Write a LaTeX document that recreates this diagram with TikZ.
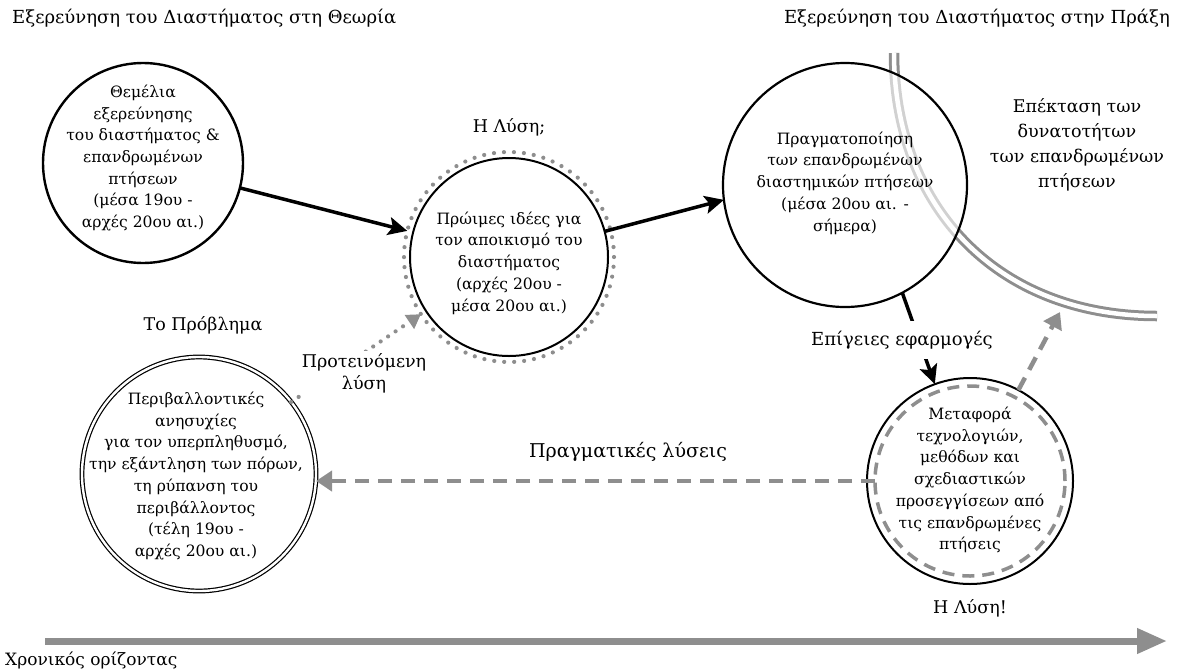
\documentclass[tikz,border=0pt]{standalone}
\usepackage{fontspec}
\setmainfont{DejaVu Serif}
\usetikzlibrary{arrows.meta}
\definecolor{midgray}{HTML}{8E8E8E}
\begin{document}
\begin{tikzpicture}[x=1pt,y=-1pt,
  body/.style={align=center, inner sep=0pt, font=\fontsize{15.6}{21.7}\selectfont},
  lbl/.style={align=center, inner sep=1pt, font=\fontsize{17.5}{22}\selectfont},
  title/.style={anchor=west, inner sep=0pt, font=\fontsize{18}{20}\selectfont},
  ring/.style={circle, inner sep=0pt, outer sep=0pt},
  blackarrow/.style={line width=3.5pt, -{Stealth[length=19pt,width=18pt,inset=4pt]}},
  grayarrow/.style={midgray, line width=4.5pt, dash pattern=on 14pt off 9pt,
                    -{Triangle[length=16pt,width=20pt]}},
  dotarrow/.style={midgray, line width=4.2pt, line cap=round, dash pattern=on 0pt off 9pt,
                   -{Triangle[length=14pt,width=16pt]}}
]
\useasboundingbox (0,0) rectangle (1177,670);

% titles
\node[title] (thl) at (12,18) {Εξερεύνηση του Διαστήματος στη Θεωρία};
\node[title, anchor=east] (thr) at (1170,18) {Εξερεύνηση του Διαστήματος στην Πράξη};

% frontier between theory and practice
\draw[midgray, line width=3pt, double=white, double distance=4.5pt]
  (894,53) .. controls (894,205) and (995,316) .. (1157,316);

% circles
\node[ring, draw, line width=2.4pt, minimum size=200pt] (c1) at (143,163) {};
\node[ring, draw=midgray, line width=4.2pt, line cap=round, dash pattern=on 0pt off 10pt,
      minimum size=210pt] (c2) at (509,257) {};
\node[ring, draw, line width=2pt, minimum size=198pt] (c2in) at (509,257) {};
\node[ring, draw, fill=white, fill opacity=0.6, draw opacity=1, line width=2.2pt,
      minimum size=244pt] (c3) at (845,185) {};
\node[ring, draw, line width=1.2pt, double=white, double distance=2.4pt,
      minimum size=234pt] (c5) at (199,474) {};
\node[ring, draw, line width=2pt, minimum size=206pt] (c4) at (970,481) {};
\node[ring, draw=midgray, line width=3.5pt, dash pattern=on 12pt off 8pt,
      minimum size=190pt] (c4in) at (970,481) {};

% circle texts
\node[body] (t1) at (143,158) {Θεμέλια\\εξερεύνησης\\του διαστήματος \&\\επανδρωμένων\\πτήσεων\\(μέσα 19ου -\\αρχές 20ου αι.)};
\node[body] (t2) at (509,263) {Πρώιμες ιδέες για\\τον αποικισμό του\\διαστήματος\\(αρχές 20ου -\\μέσα 20ου αι.)};
\node[body] (t3) at (845,183) {Πραγματοποίηση\\των επανδρωμένων\\διαστημικών πτήσεων\\(μέσα 20ου αι. -\\σήμερα)};
\node[body] (t5) at (196,476) {Περιβαλλοντικές\\ανησυχίες\\για τον υπερπληθυσμό,\\την εξάντληση των πόρων,\\τη ρύπανση του\\περιβάλλοντος\\(τέλη 19ου -\\αρχές 20ου αι.)};
\node[body] (t4) at (970,480) {Μεταφορά\\τεχνολογιών,\\μεθόδων και\\σχεδιαστικών\\προσεγγίσεων από\\τις επανδρωμένες\\πτήσεις};

% free labels
\node[lbl] (q) at (509,127) {Η Λύση;};
\node[lbl] (prob) at (203,325) {Το Πρόβλημα};
\node[lbl] (ans) at (970,608) {Η Λύση!};
\node[lbl, font=\fontsize{17.5}{25}\selectfont] (ext) at (1077,145) {Επέκταση των\\δυνατοτήτων\\των επανδρωμένων\\πτήσεων};
\node[title, font=\fontsize{17}{20}\selectfont] (axis) at (5,660) {Χρονικός ορίζοντας};

% connectors
\draw[blackarrow] (c1) -- (c2);
\draw[blackarrow] (c2in.15) -- (c3.187);
\draw[blackarrow] (c3.-62) -- (c4.110);
\node[lbl, fill=white, inner ysep=10pt, font=\fontsize{18}{22}\selectfont] (earth) at (902,340) {Επίγειες εφαρμογές};

\draw[dotarrow] (c5.38) -- (c2.213);
\node[lbl, fill=white, inner sep=2pt] (prop) at (364,373) {Προτεινόμενη\\λύση};

\draw[grayarrow] (c4in.west) -- (c4in.west -| c5.east);
\node[lbl, font=\fontsize{19}{22}\selectfont] (real) at (628,452) {Πραγματικές λύσεις};

\coordinate (frontier) at (1060,312);
\draw[grayarrow] (c4.62) -- (frontier);

% time axis
\coordinate (tl0) at (45,641);
\coordinate (tl1) at (1167,641);
\draw[midgray, line width=7pt, -{Triangle[length=30pt,width=24pt]}] (tl0) -- (tl1);
\end{tikzpicture}
\end{document}
